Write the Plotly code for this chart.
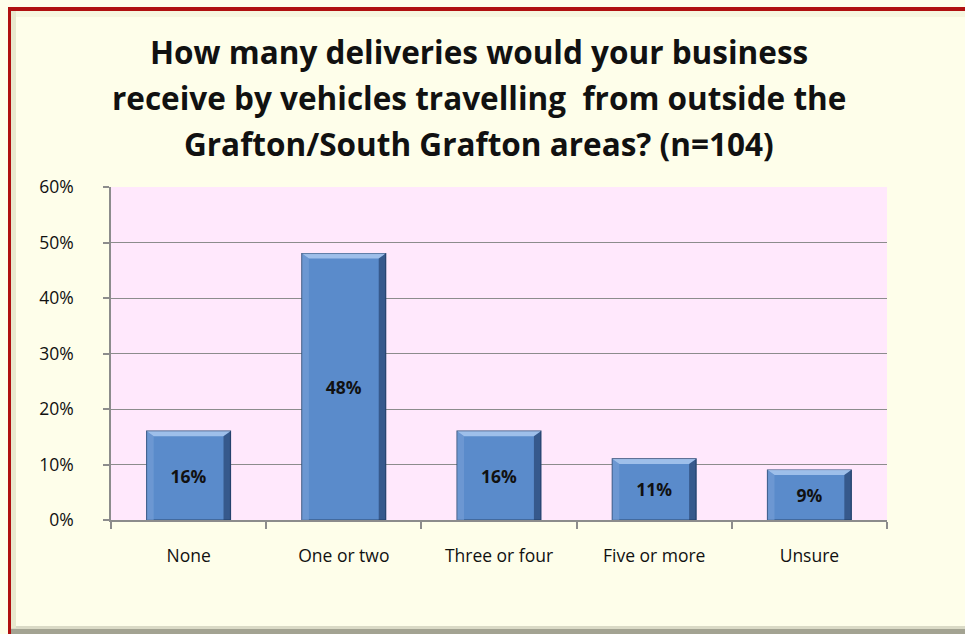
import plotly.graph_objects as go

# Survey responses (n=104)
categories = ["None", "One or two", "Three or four", "Five or more", "Unsure"]
shares = [16, 48, 16, 11, 9]
tick_values = [0, 10, 20, 30, 40, 50, 60]
tick_labels = ["0%", "10%", "20%", "30%", "40%", "50%", "60%"]
title_lines = [
    "How many deliveries would your business",
    "receive by vehicles travelling  from outside the",
    "Grafton/South Grafton areas? (n=104)",
]

BAR_WIDTH = 0.54
FONT = "Open Sans"

W, H = 965, 634
L, R, T, B = 111, 78, 187, 114
pw, ph = W - L - R, H - T - B


def px_x(px):
    return (px - L) / pw


def px_y(py):
    return (H - B - py) / ph


fig = go.Figure()
fig.add_trace(go.Bar(
    x=categories,
    y=shares,
    width=BAR_WIDTH,
    marker=dict(color="#5A8BCB", line=dict(color="#2B4A75", width=1.2)),
    text=[f"{v}%" for v in shares],
    textposition="inside",
    insidetextanchor="middle",
    textangle=0,
    textfont=dict(family=FONT, size=17.5, color="#111111", weight="bold"),
    hoverinfo="skip",
))

# Bevel highlights on each bar, derived from the bar values
shapes = []
for i, v in enumerate(shares):
    x0 = i - BAR_WIDTH / 2
    x1 = i + BAR_WIDTH / 2
    bx = 0.045  # bevel depth in category units
    by = 0.9    # bevel depth in percent units
    shapes.append(dict(
        type="path", xref="x", yref="y", layer="above",
        path=f"M {x0},{v} L {x1},{v} L {x1 - bx},{v - by} L {x0 + bx},{v - by} Z",
        fillcolor="rgba(170,200,240,0.85)", line=dict(width=0)))
    shapes.append(dict(
        type="path", xref="x", yref="y", layer="above",
        path=f"M {x1},{v} L {x1},0 L {x1 - bx},0 L {x1 - bx},{v - by} Z",
        fillcolor="rgba(25,50,90,0.55)", line=dict(width=0)))
    shapes.append(dict(
        type="path", xref="x", yref="y", layer="above",
        path=f"M {x0},{v} L {x0 + bx},{v - by} L {x0 + bx},0 L {x0},0 Z",
        fillcolor="rgba(120,160,215,0.6)", line=dict(width=0)))

# Outer frame: dark red border on top/left, soft inner and bottom shadows
frame = [
    dict(type="rect", xref="paper", yref="paper",
         x0=px_x(10), x1=px_x(965), y0=px_y(634), y1=px_y(629),
         fillcolor="#A3A392", line=dict(width=0), layer="below"),
    dict(type="rect", xref="paper", yref="paper",
         x0=px_x(10), x1=px_x(965), y0=px_y(629), y1=px_y(626),
         fillcolor="#DADAC6", line=dict(width=0), layer="below"),
    dict(type="rect", xref="paper", yref="paper",
         x0=px_x(11), x1=px_x(965), y0=px_y(17), y1=px_y(11),
         fillcolor="#F6F6DF", line=dict(width=0), layer="below"),
    dict(type="rect", xref="paper", yref="paper",
         x0=px_x(11), x1=px_x(16), y0=px_y(628), y1=px_y(11),
         fillcolor="#E8E8CE", line=dict(width=0), layer="below"),
    dict(type="rect", xref="paper", yref="paper",
         x0=px_x(8), x1=px_x(965), y0=px_y(11), y1=px_y(7),
         fillcolor="#B01010", line=dict(width=0), layer="below"),
    dict(type="rect", xref="paper", yref="paper",
         x0=px_x(8), x1=px_x(11), y0=px_y(634), y1=px_y(7),
         fillcolor="#B01010", line=dict(width=0), layer="below"),
]

# Three-line bold title
title_centres = [52, 98, 143]
annotations = [
    dict(text=line, xref="paper", yref="paper",
         x=px_x(479), y=px_y(cy), xanchor="center", yanchor="middle",
         showarrow=False,
         font=dict(family=FONT, size=31.5, color="#111111", weight="bold"))
    for line, cy in zip(title_lines, title_centres)
]

fig.update_layout(
    width=W, height=H,
    margin=dict(l=L, r=R, t=T, b=B),
    paper_bgcolor="#FEFEEA",
    plot_bgcolor="#FFE8FC",
    showlegend=False,
    xaxis=dict(
        type="category",
        range=[-0.5, 4.5],
        showgrid=False,
        showline=True, linecolor="#8C8C8C", linewidth=1.5,
        ticks="outside", tickson="boundaries", ticklen=7,
        tickcolor="#8C8C8C", tickwidth=1.5,
        tickfont=dict(family=FONT, size=17.5, color="#111111"),
        ticklabelstandoff=19,
    ),
    yaxis=dict(
        range=[0, 60],
        tickvals=tick_values,
        ticktext=tick_labels,
        showgrid=True, gridcolor="#8C8C8C", gridwidth=1.2,
        showline=True, linecolor="#8C8C8C", linewidth=1.5,
        ticks="outside", ticklen=6, tickcolor="#8C8C8C", tickwidth=1.5,
        tickfont=dict(family=FONT, size=17.5, color="#111111"),
        ticklabelstandoff=26,
        zeroline=False,
    ),
    shapes=shapes + frame,
    annotations=annotations,
)

fig.write_html("out.html", config={"displayModeBar": False})
